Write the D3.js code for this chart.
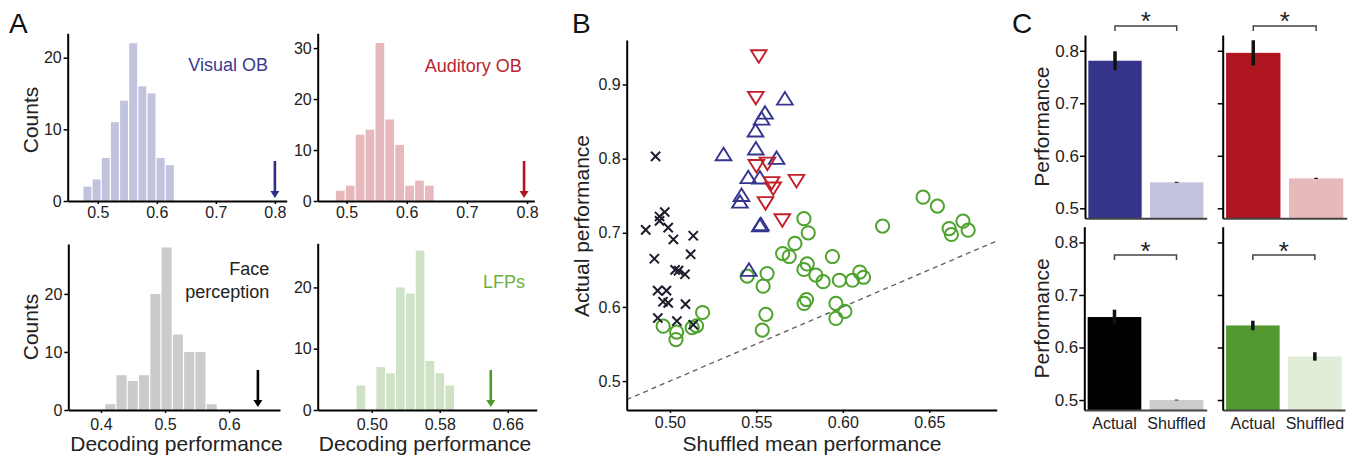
<!DOCTYPE html>
<html>
<head>
<meta charset="utf-8">
<script src="https://cdn.jsdelivr.net/npm/d3@7"></script>
<style>
  body { margin: 0; background: #fff; }
  svg text { font-family: "Liberation Sans", Arial, sans-serif; }
</style>
</head>
<body>
<div id="chart"></div>
<script>
// ---- panel A : shuffled-label null distributions ----
const visualCounts   = [2, 3, 6, 11, 14, 22, 16, 15, 6, 5];
const visualBins     = [0.4747, 0.0155];      // first edge, bin width
const auditoryCounts = [2, 3, 13, 14, 31, 16, 11, 3, 4, 3];
const auditoryBins   = [0.4813, 0.01645];
const faceCounts     = [1, 6, 5, 6, 20, 28, 13, 10, 10, 1];
const faceBins       = [0.4057, 0.0176];
const lfpCounts      = [4, 0, 7, 6, 20, 19, 26, 8, 6, 4];
const lfpBins        = [0.4815, 0.0116];
const actualPerf     = [0.80, 0.795, 0.645, 0.640];   // arrows
const histLabels     = [["Visual OB"], ["Auditory OB"], ["Face", "perception"], ["LFPs"]];
const histXTicks     = [[0.5, 0.6, 0.7, 0.8], [0.5, 0.6, 0.7, 0.8], [0.4, 0.5, 0.6], [0.50, 0.58, 0.66]];
const histYTicks     = [[0, 10, 20], [0, 10, 20, 30], [0, 10, 20], [0, 10, 20]];

// ---- panel B : actual vs shuffled mean performance ----
const faceScatter = [[0.4917,0.803],[0.497,0.728],[0.494,0.722],[0.494,0.716],[0.486,0.704],[0.499,0.707],
  [0.502,0.691],[0.5135,0.696],[0.491,0.665],[0.512,0.671],[0.503,0.650],[0.505,0.649],[0.5087,0.644],
  [0.4929,0.622],[0.498,0.622],[0.496,0.607],[0.499,0.6055],[0.509,0.6038],[0.493,0.585],[0.504,0.581],[0.5135,0.576]];
const visualScatter = [[0.5665,0.881],[0.555,0.862],[0.553,0.854],[0.5495,0.838],[0.5497,0.8136],[0.531,0.806],
  [0.5617,0.801],[0.5453,0.775],[0.552,0.7745],[0.5414,0.751],[0.5405,0.742],[0.552,0.710],[0.5526,0.7116],[0.5457,0.650]];
const auditoryScatter = [[0.5514,0.938],[0.5497,0.882],[0.550,0.790],[0.5564,0.7933],[0.5588,0.767],[0.5732,0.770],
  [0.5597,0.7597],[0.5553,0.740],[0.565,0.717]];
const lfpScatter = [[0.4961,0.574],[0.5039,0.566],[0.5035,0.556],[0.5129,0.572],[0.5154,0.5746],[0.5189,0.5925],
  [0.5447,0.6415],[0.5562,0.645],[0.5539,0.628],[0.5555,0.590],[0.5534,0.5687],[0.5775,0.719],[0.580,0.700],
  [0.5723,0.6856],[0.5652,0.672],[0.569,0.668],[0.5794,0.658],[0.5775,0.6505],[0.5844,0.643],[0.5886,0.634],
  [0.594,0.668],[0.598,0.636],[0.6056,0.636],[0.6098,0.647],[0.612,0.640],[0.579,0.610],[0.5776,0.6047],
  [0.596,0.6047],[0.6012,0.594],[0.596,0.5845],[0.623,0.709],[0.6464,0.748],[0.6547,0.736],[0.6615,0.7057],
  [0.6628,0.6977],[0.6695,0.7156],[0.6725,0.7035]];
const scatterXTicks = [0.50, 0.55, 0.60, 0.65];
const scatterYTicks = [0.5, 0.6, 0.7, 0.8, 0.9];

// ---- panel C : mean performance, actual vs shuffled ----
const barGroups     = ["Actual", "Shuffled"];
const visualBarMean = [0.781, 0.5495], visualBarErr = [0.018, 0.001];
const audBarMean    = [0.796, 0.557],  audBarErr    = [0.024, 0.0012];
const faceBarMean   = [0.658, 0.500],  faceBarErr   = [0.014, 0.0008];
const lfpBarMean    = [0.642, 0.583],  lfpBarErr    = [0.009, 0.008];
const barYTicks     = [0.5, 0.6, 0.7, 0.8];

const W = 1352, H = 457;
const FONT = "Liberation Sans, Arial, sans-serif";

const svg = d3.select("#chart").append("svg")
  .attr("width", W).attr("height", H);

function styleAxis(g, o) {
  g.attr("font-family", FONT).attr("font-size", o.fs || 16);
  g.select(".domain").attr("stroke", o.color || "#000").attr("stroke-width", o.sw || 2);
  g.selectAll(".tick line").attr("stroke", "#000").attr("stroke-width", 1.5);
  g.selectAll(".tick text").attr("fill", "#222");
}

// panel letters
[["A", 9, 33], ["B", 572, 33], ["C", 1012, 33]].forEach(d => {
  svg.append("text").attr("x", d[1]).attr("y", d[2]).attr("font-size", 28)
    .attr("fill", "#111").text(d[0]);
});

// ================= panel A =================
const hists = [
  {counts: visualCounts, bins: visualBins, box: [67.7, 286.7, 33.3, 201], xd: [0.449, 0.82], yd: [0, 23.4],
   fill: "#c1c2dd", arrow: "#2e2e85", tcol: "#3a3a90", fmt: ".1f", lx: 268, ly: [71], pad: 3},
  {counts: auditoryCounts, bins: auditoryBins, box: [317.7, 534.3, 33.3, 201], xd: [0.452, 0.812], yd: [0, 32.9],
   fill: "#e7b9bd", arrow: "#b0141f", tcol: "#bb2433", fmt: ".1f", lx: 521.7, ly: [71.7], pad: 3},
  {counts: faceCounts, bins: faceBins, box: [68.3, 280, 244, 410], xd: [0.349, 0.6795], yd: [0, 28.6],
   fill: "#cbcbcb", arrow: "#000", tcol: "#222", fmt: ".1f", lx: 269.3, ly: [275, 298.3], pad: 6},
  {counts: lfpCounts, bins: lfpBins, box: [317.7, 536.7, 243.3, 410], xd: [0.4365, 0.694], yd: [0, 27.2],
   fill: "#cfe2c6", arrow: "#4b9a2a", tcol: "#6db043", fmt: ".2f", lx: 525, ly: [288.3], pad: 6}
];

hists.forEach((h, i) => {
  const [x0, x1, y0, y1] = h.box;
  const x = d3.scaleLinear().domain(h.xd).range([x0, x1]);
  const y = d3.scaleLinear().domain(h.yd).range([y1, y0]);
  const g = svg.append("g");

  g.selectAll("rect").data(h.counts).enter().append("rect")
    .attr("x", (d, k) => x(h.bins[0] + k * h.bins[1]) + 0.6)
    .attr("width", x(h.bins[0] + h.bins[1]) - x(h.bins[0]) - 1.2)
    .attr("y", d => y(d))
    .attr("height", d => y(0) - y(d))
    .attr("fill", h.fill);

  const gx = g.append("g").attr("transform", `translate(0,${y1})`)
    .call(d3.axisBottom(x).tickValues(histXTicks[i]).tickFormat(d3.format(h.fmt))
      .tickSize(3).tickSizeOuter(0).tickPadding(h.pad));
  styleAxis(gx, {});
  const gy = g.append("g").attr("transform", `translate(${x0},0)`)
    .call(d3.axisLeft(y).tickValues(histYTicks[i]).tickSize(4).tickSizeOuter(0).tickPadding(2));
  styleAxis(gy, {});

  // arrow marking the actual decoding performance
  const ax = x(actualPerf[i]), tip = y1 - 3;
  g.append("line").attr("x1", ax).attr("x2", ax).attr("y1", tip - 37).attr("y2", tip - 5)
    .attr("stroke", h.arrow).attr("stroke-width", 2.6);
  g.append("path").attr("d", `M${ax - 4.5},${tip - 7}L${ax + 4.5},${tip - 7}L${ax},${tip}Z`)
    .attr("fill", h.arrow);

  histLabels[i].forEach((t, k) => {
    g.append("text").attr("x", h.lx).attr("y", h.ly[k]).attr("text-anchor", "end")
      .attr("font-size", 18).attr("fill", h.tcol).text(t);
  });
});

[120, 327].forEach(cy => {
  svg.append("text").attr("transform", `translate(38,${cy}) rotate(-90)`)
    .attr("text-anchor", "middle").attr("font-size", 21).attr("fill", "#222").text("Counts");
});
[176.5, 425].forEach(cx => {
  svg.append("text").attr("x", cx).attr("y", 451).attr("text-anchor", "middle")
    .attr("font-size", 21).attr("fill", "#222").text("Decoding performance");
});

// ================= panel B =================
const sx = d3.scaleLinear().domain([0.475, 0.689]).range([626.7, 996.7]);
const sy = d3.scaleLinear().domain([0.461, 0.96]).range([410, 40]);
const gB = svg.append("g");

gB.append("line")
  .attr("x1", sx(0.475)).attr("y1", sy(0.475)).attr("x2", sx(0.689)).attr("y2", sy(0.689))
  .attr("stroke", "#666").attr("stroke-width", 1.4).attr("stroke-dasharray", "5,4");

const gbx = gB.append("g").attr("transform", "translate(0,410)")
  .call(d3.axisBottom(sx).tickValues(scatterXTicks).tickFormat(d3.format(".2f"))
    .tickSize(3).tickSizeOuter(0).tickPadding(4));
styleAxis(gbx, {});
const gby = gB.append("g").attr("transform", "translate(626.7,0)")
  .call(d3.axisLeft(sy).tickValues(scatterYTicks).tickFormat(d3.format(".1f"))
    .tickSize(4).tickSizeOuter(0).tickPadding(2));
styleAxis(gby, {});

gB.append("g").selectAll("circle").data(lfpScatter).enter().append("circle")
  .attr("cx", d => sx(d[0])).attr("cy", d => sy(d[1])).attr("r", 6.6)
  .attr("fill", "none").attr("stroke", "#4ea22e").attr("stroke-width", 2);

gB.append("g").selectAll("path").data(faceScatter).enter().append("path")
  .attr("transform", d => `translate(${sx(d[0])},${sy(d[1])})`)
  .attr("d", "M-4.6,-4.6L4.6,4.6M-4.6,4.6L4.6,-4.6")
  .attr("stroke", "#1c1c2c").attr("stroke-width", 2).attr("fill", "none");

gB.append("g").selectAll("path").data(visualScatter).enter().append("path")
  .attr("transform", d => `translate(${sx(d[0])},${sy(d[1])})`)
  .attr("d", "M0,-6.5L7.8,6L-7.8,6Z")
  .attr("stroke", "#35358f").attr("stroke-width", 1.9).attr("fill", "none");

gB.append("g").selectAll("path").data(auditoryScatter).enter().append("path")
  .attr("transform", d => `translate(${sx(d[0])},${sy(d[1])})`)
  .attr("d", "M0,6.5L7.8,-6L-7.8,-6Z")
  .attr("stroke", "#c21f2b").attr("stroke-width", 1.9).attr("fill", "none");

gB.append("text").attr("transform", "translate(589,226) rotate(-90)")
  .attr("text-anchor", "middle").attr("font-size", 21).attr("fill", "#222").text("Actual performance");
gB.append("text").attr("x", 812).attr("y", 451).attr("text-anchor", "middle")
  .attr("font-size", 21).attr("fill", "#222").text("Shuffled mean performance");

// ================= panel C =================
const barPanels = [
  {mean: visualBarMean, err: visualBarErr, cols: ["#35338a", "#c2c3dc"], x0: 1085, x1: 1206.7, y0: 35, y1: 218.3, left: true, bottom: false, star: 30.3, br: 26},
  {mean: audBarMean, err: audBarErr, cols: ["#ae1520", "#e6b9bb"], x0: 1222.7, x1: 1346.7, y0: 35, y1: 218.3, left: false, bottom: false, star: 30.3, br: 26},
  {mean: faceBarMean, err: faceBarErr, cols: ["#000000", "#cccccc"], x0: 1084.3, x1: 1206.7, y0: 226.7, y1: 410, left: true, bottom: true, star: 260.3, br: 255},
  {mean: lfpBarMean, err: lfpBarErr, cols: ["#529a30", "#e1ecd9"], x0: 1222.7, x1: 1345, y0: 226.7, y1: 410, left: false, bottom: true, star: 260.3, br: 255}
];

barPanels.forEach(p => {
  const y = d3.scaleLinear().domain([0.481, 0.83]).range([p.y1, p.y0]);
  const x = d3.scaleBand().domain(barGroups).range([p.x0, p.x1]).paddingInner(0.135).paddingOuter(0.054);
  const g = svg.append("g");

  g.selectAll("rect").data(barGroups).enter().append("rect")
    .attr("x", d => x(d)).attr("width", x.bandwidth())
    .attr("y", (d, k) => y(p.mean[k])).attr("height", (d, k) => p.y1 - y(p.mean[k]))
    .attr("fill", (d, k) => p.cols[k]);

  g.selectAll("line.err").data(barGroups).enter().append("line").attr("class", "err")
    .attr("x1", d => x(d) + x.bandwidth() / 2).attr("x2", d => x(d) + x.bandwidth() / 2)
    .attr("y1", (d, k) => y(p.mean[k] + p.err[k])).attr("y2", (d, k) => y(p.mean[k] - p.err[k]))
    .attr("stroke", "#111").attr("stroke-width", 3.5);

  const gx = g.append("g").attr("transform", `translate(0,${p.y1})`)
    .call(d3.axisBottom(x).tickSize(0).tickPadding(8).tickSizeOuter(0));
  styleAxis(gx, {color: "#444", sw: 2});
  if (!p.bottom) gx.selectAll(".tick text").remove();

  const gy = g.append("g").attr("transform", `translate(${p.x0},0)`)
    .call(d3.axisLeft(y).tickValues(barYTicks).tickFormat(d3.format(".1f"))
      .tickSize(5).tickSizeOuter(0).tickPadding(1));
  styleAxis(gy, {fs: 17});
  if (!p.left) gy.selectAll(".tick text").remove();

  // significance bracket
  const bx1 = x(barGroups[0]) + x.bandwidth() / 2, bx2 = x(barGroups[1]) + x.bandwidth() / 2;
  g.append("path").attr("d", `M${bx1},${p.br + 5}V${p.br}H${bx2}V${p.br + 5}`)
    .attr("fill", "none").attr("stroke", "#444").attr("stroke-width", 1.5);
  g.append("text").attr("x", (bx1 + bx2) / 2).attr("y", p.star).attr("text-anchor", "middle")
    .attr("font-size", 26).attr("fill", "#222").text("*");

  if (p.left) {
    g.append("text").attr("transform", `translate(1048.5,${(p.y0 + p.y1) / 2}) rotate(-90)`)
      .attr("text-anchor", "middle").attr("font-size", 21).attr("fill", "#222").text("Performance");
  }
});
</script>
</body>
</html>
